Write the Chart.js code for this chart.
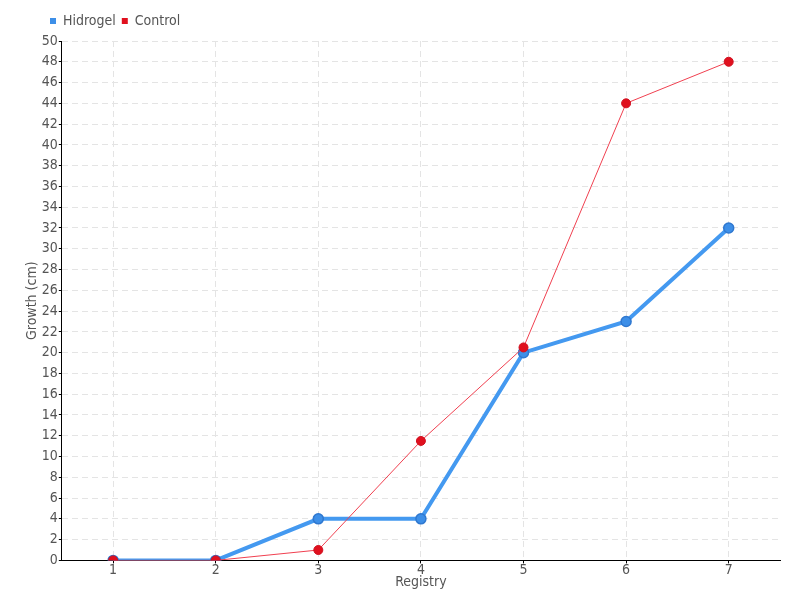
<!DOCTYPE html>
<html><head><meta charset="utf-8">
<script src="https://cdn.jsdelivr.net/npm/chart.js@4/dist/chart.umd.min.js"></script>
<style>html,body{margin:0;padding:0;background:#fff}#wrap{width:800px;height:600px}</style>
</head><body><div id="wrap"><canvas id="c" width="800" height="600"></canvas></div>
<script>
const categories = ['1','2','3','4','5','6','7'];
const hidrogel = [0,0,4,4,20,23,32];
const control = [0,0,1,11.5,20.5,44,48];
const seriesNames = ['Hidrogel','Control'];
const FONT = "'DejaVu Sans Condensed', 'Liberation Sans Narrow', sans-serif";
const legendShift = {
  id: 'legendShift',
  afterLayout(chart) { if (chart.legend) { chart.legend.left += 20; chart.legend.top -= 3; } }
};
new Chart(document.getElementById('c'), {
  type: 'line',
  data: {
    labels: categories,
    datasets: [
      {label: seriesNames[0], data: hidrogel, borderColor: '#4499f0', backgroundColor: '#3d8fe8', pointBorderColor:'#2f78d0', borderWidth: 4, pointRadius: 5, pointBorderWidth: 1.5, tension: 0, order: 2},
      {label: seriesNames[1], data: control, borderColor: '#f04050', backgroundColor: '#e0101e', pointBorderColor:'#d01020', borderWidth: 1, pointRadius: 4.5, pointBorderWidth: 1, tension: 0, order: 1}
    ]
  },
  plugins: [legendShift],
  options: {
    responsive: false, animation: false,
    layout: {padding: {left: 24, right: 20, top: 11, bottom: 9}},
    plugins: {
      legend: {align: 'start', position: 'top', labels: {boxWidth: 6, boxHeight: 6, padding: 6, color: '#555', font: {family: FONT, size: 14}, generateLabels: (chart) => chart.data.datasets.map((d,i)=>({text:d.label, fillStyle:d.backgroundColor, strokeStyle:d.backgroundColor, fontColor:'#555', lineWidth:0, datasetIndex:i, hidden:false}))}},
      tooltip: {enabled: false}
    },
    scales: {
      x: {
        offset: true,
        title: {display: true, text: 'Registry', color: '#555', font: {family: FONT, size: 14}, padding: {top: -4, bottom: 0}},
        ticks: {color: '#555', font: {family: FONT, size: 14}, padding: -1},
        grid: {color: '#e4e4e4', tickColor: '#000', tickLength: 3, offset: false},
        border: {color: '#000', width: 1, dash: [6,4]}
      },
      y: {
        min: 0, max: 50,
        title: {display: true, text: 'Growth (cm)', color: '#555', font: {family: FONT, size: 14}, padding: {top: 0, bottom: 0}},
        ticks: {stepSize: 2, color: '#555', font: {family: FONT, size: 14}, padding: 1},
        grid: {color: '#e4e4e4', tickColor: '#000', tickLength: 3},
        border: {color: '#000', width: 1, dash: [6,4]}
      }
    }
  }
});
</script></body></html>
